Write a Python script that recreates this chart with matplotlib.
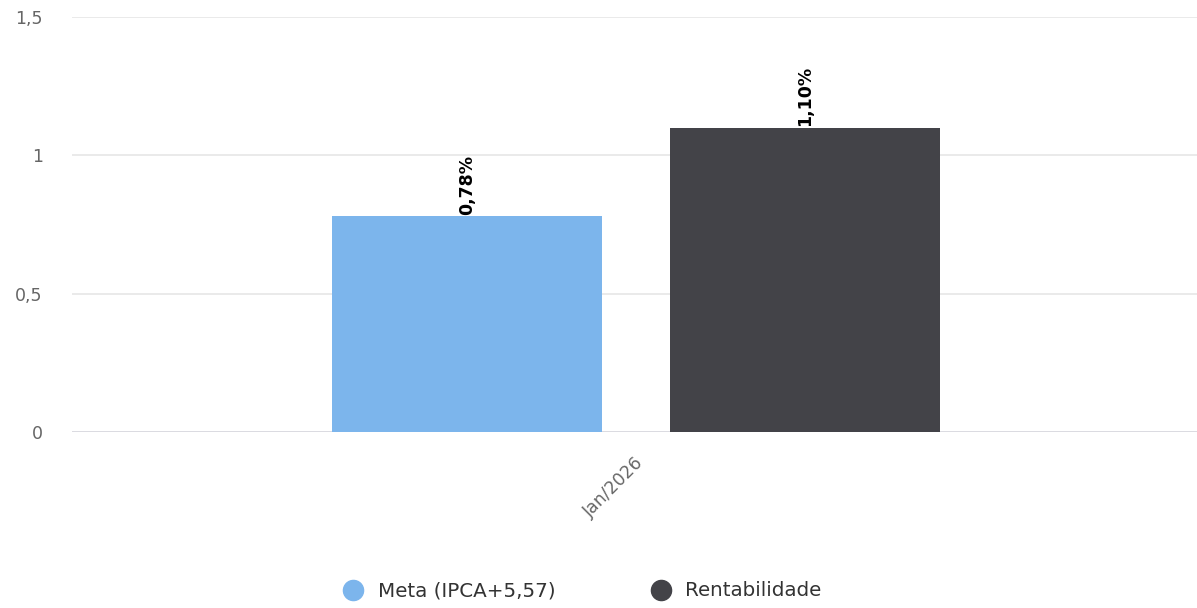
import matplotlib
matplotlib.use("Agg")
import matplotlib.pyplot as plt
from matplotlib.lines import Line2D

categories = ["Jan/2026"]
series_names = ["Meta (IPCA+5,57)", "Rentabilidade"]
meta_values = [0.78]
rent_values = [1.10]
colors = ["#7cb5ec", "#434348"]
yticks = [0, 0.5, 1, 1.5]
ytick_labels = ["0", "0,5", "1", "1,5"]

plt.rcParams['font.family'] = ['DejaVu Sans']

fig = plt.figure(figsize=(11.97, 6.08), dpi=100)
ax = fig.add_axes([0.060, 0.2895, 0.94, 0.6825])

x = list(range(len(categories)))
width = 0.24
offsets = [-0.149, 0.152]
for vals, off, col in zip([meta_values, rent_values], offsets, colors):
    xs = [xi + off for xi in x]
    bars = ax.bar(xs, vals, width=width, color=col, zorder=3)
    for b, v in zip(bars, vals):
        ax.annotate(f"{v:.2f}%".replace(".", ","),
                    (b.get_x() + b.get_width() / 2, v),
                    xytext=(0, 1), textcoords="offset points",
                    rotation=90, ha="center", va="bottom",
                    fontsize=12.5, fontweight="bold", color="black")

ax.set_xlim(-0.5, 0.5)
ax.set_ylim(0, 1.5)
ax.set_yticks(yticks)
ax.set_yticklabels(ytick_labels, color="#666666", fontsize=12.5)
ax.yaxis.grid(True, color="#e6e6e6", linewidth=1.2, zorder=0)
ax.set_xticks(x)
ax.set_xticklabels(categories, rotation=45, ha="right", rotation_mode="anchor",
                   color="#666666", fontsize=12.5)
ax.tick_params(axis="y", length=0, pad=21)
ax.tick_params(axis="x", length=0, pad=16)
for s in ax.spines.values():
    s.set_visible(False)
ax.axhline(0, color="#d8d8e0", linewidth=1.2, zorder=2)

handles = [Line2D([0], [0], marker="o", linestyle="none", markersize=14.5,
                  markerfacecolor=c, markeredgecolor=c) for c in colors]
fig.legend(handles, series_names, loc="center", bbox_to_anchor=(0.4865, 0.028),
           ncol=2, frameon=False, fontsize=14.3, handlelength=1.0,
           handletextpad=0.75, columnspacing=4.8, labelcolor="#333333")

fig.savefig("out.png", dpi=100, facecolor="white")
